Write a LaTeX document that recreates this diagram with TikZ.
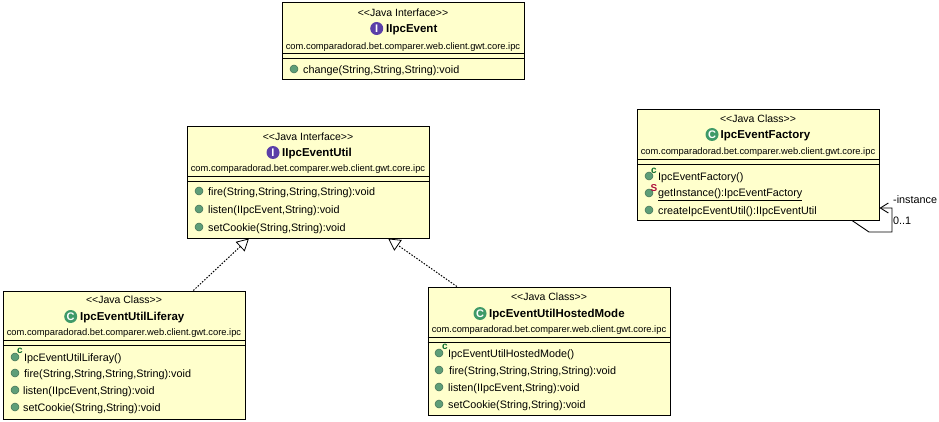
\documentclass[tikz,border=0pt]{standalone}
\usepackage{fontspec}
\setmainfont{Liberation Sans}
\definecolor{umlyellow}{HTML}{FFFFCC}
\definecolor{methodgreen}{HTML}{5E9E78}
\definecolor{classgreen}{HTML}{3F9A68}
\definecolor{ifacepurple}{HTML}{5B3FA8}
\definecolor{badgegreen}{HTML}{0A6B2A}
\definecolor{badgered}{HTML}{B0103C}
\usetikzlibrary{arrows.meta}
\tikzset{
	umlbox/.style={draw=black, fill=umlyellow, line width=1pt, inner sep=0pt},
	stereotext/.style={anchor=mid, yshift=-1.5pt, inner sep=0pt, font=\fontsize{10.5}{12}\selectfont},
	titletext/.style={anchor=mid west, yshift=-1.5pt, inner sep=0pt, font=\bfseries\fontsize{11.5}{14}\selectfont},
	packagetext/.style={anchor=mid, yshift=-1.5pt, inner sep=0pt, font=\fontsize{9.35}{11}\selectfont},
	membertext/.style={anchor=mid west, yshift=-1.5pt, inner sep=0pt, font=\fontsize{10.8}{12}\selectfont},
	labeltext/.style={anchor=mid west, yshift=-1.5pt, inner sep=0pt, font=\fontsize{10.8}{12}\selectfont},
	methodicon/.style={circle, draw=methodgreen!70!black, fill=methodgreen, line width=0.5pt, minimum size=8pt, inner sep=0pt},
	typeicon/.style={circle, fill=#1, minimum size=13pt, inner sep=0pt, text=white, font=\bfseries\fontsize{11}{11}\selectfont},
	badgetext/.style={anchor=mid, inner sep=0pt, font=\bfseries\fontsize{10}{10}\selectfont},
	realize/.style={dash pattern=on 1.5pt off 1.5pt, line width=1pt, -{Triangle[open, length=12pt, width=13pt, fill=white, line width=0.8pt]}},
	selfassoc/.style={line width=0.9pt, -{Straight Barb[length=8pt, width=10pt]}},
}
\begin{document}
\begin{tikzpicture}[x=1pt, y=-1pt]
	\useasboundingbox (0,0) rectangle (939,422);
	% boxes
	\node[umlbox, minimum width=241.5pt, minimum height=77pt] (event) at (403.25,41.5) {};
	\node[umlbox, minimum width=241.5pt, minimum height=111pt] (util) at (308.5,182.5) {};
	\node[umlbox, minimum width=241.5pt, minimum height=110pt] (factory) at (758.25,165) {};
	\node[umlbox, minimum width=242pt, minimum height=128pt] (liferay) at (124.5,355) {};
	\node[umlbox, minimum width=242pt, minimum height=128pt] (hosted) at (549,351) {};
	% compartments
	\draw (event.west |- 0,53) -- (event.east |- 0,53);
	\draw (event.west |- 0,58) -- (event.east |- 0,58);
	\draw (util.west |- 0,176) -- (util.east |- 0,176);
	\draw (util.west |- 0,181) -- (util.east |- 0,181);
	\draw (factory.west |- 0,159) -- (factory.east |- 0,159);
	\draw (factory.west |- 0,164) -- (factory.east |- 0,164);
	\draw (liferay.west |- 0,340) -- (liferay.east |- 0,340);
	\draw (liferay.west |- 0,345) -- (liferay.east |- 0,345);
	\draw (hosted.west |- 0,337) -- (hosted.east |- 0,337);
	\draw (hosted.west |- 0,342) -- (hosted.east |- 0,342);
	% IIpcEvent
	\node[stereotext] (eventstereo) at (403,12) {<{}<Java Interface>{}>};
	\node[typeicon=ifacepurple] (eventicon) at (376.7,28.5) {I};
	\node[titletext] (eventtitle) at (386,28) {IIpcEvent};
	\node[packagetext] (eventpack) at (403,45) {com.comparadorad.bet.comparer.web.client.gwt.core.ipc};
	\node[methodicon] (eventicona) at (294,69) {};
	\node[membertext] (eventchange) at (303,69) {change(String,String,String):void};
	% IIpcEventUtil
	\node[stereotext] (utilstereo) at (308,136) {<{}<Java Interface>{}>};
	\node[typeicon=ifacepurple] (utilicon) at (273,152.5) {I};
	\node[titletext] (utiltitle) at (282,152) {IIpcEventUtil};
	\node[packagetext] (utilpack) at (308,167) {com.comparadorad.bet.comparer.web.client.gwt.core.ipc};
	\foreach \ypos in {191,209,227}
		\node[methodicon] (utilicon\ypos) at (199,\ypos) {};
	\node[membertext] (utilfire) at (208,191) {fire(String,String,String,String):void};
	\node[membertext] (utillisten) at (208,209) {listen(IIpcEvent,String):void};
	\node[membertext] (utilcookie) at (208,227) {setCookie(String,String):void};
	% IpcEventFactory
	\node[stereotext] (factorystereo) at (758,118) {<{}<Java Class>{}>};
	\node[typeicon=classgreen] (factoryicon) at (712,134.5) {C};
	\node[titletext] (factorytitle) at (720.5,134) {IpcEventFactory};
	\node[packagetext] (factorypack) at (758,150) {com.comparadorad.bet.comparer.web.client.gwt.core.ipc};
	\foreach \ypos in {176,193,210}
		\node[methodicon] (factoryicon\ypos) at (649,\ypos) {};
	\node[badgetext, text=badgegreen] (factorybadgec) at (654,171) {c};
	\node[badgetext, text=badgered] (factorybadges) at (654,189) {S};
	\node[membertext] (factoryctor) at (658,176) {IpcEventFactory()};
	\node[membertext] (factoryget) at (658,192) {getInstance():IpcEventFactory};
	\node[membertext] (factorycreate) at (658,210) {createIpcEventUtil():IIpcEventUtil};
	\draw (factoryget.west |- 0,200) -- (factoryget.east |- 0,200);
	% IpcEventUtilLiferay
	\node[stereotext] (liferaystereo) at (124,299) {<{}<Java Class>{}>};
	\node[typeicon=classgreen] (liferayicon) at (70.7,316.5) {C};
	\node[titletext] (liferaytitle) at (80,316) {IpcEventUtilLiferay};
	\node[packagetext] (liferaypack) at (124,331) {com.comparadorad.bet.comparer.web.client.gwt.core.ipc};
	\foreach \ypos in {357,373,390,407}
		\node[methodicon] (liferayicon\ypos) at (15,\ypos) {};
	\node[badgetext, text=badgegreen] (liferaybadge) at (20,351) {c};
	\node[membertext] (liferayctor) at (24,357) {IpcEventUtilLiferay()};
	\node[membertext] (liferayfire) at (24,373) {fire(String,String,String,String):void};
	\node[membertext] (liferaylisten) at (23,390) {listen(IIpcEvent,String):void};
	\node[membertext] (liferaycookie) at (23,407) {setCookie(String,String):void};
	% IpcEventUtilHostedMode
	\node[stereotext] (hostedstereo) at (549,296) {<{}<Java Class>{}>};
	\node[typeicon=classgreen] (hostedicon) at (480,313.5) {C};
	\node[titletext] (hostedtitle) at (489,313) {IpcEventUtilHostedMode};
	\node[packagetext] (hostedpack) at (549,328) {com.comparadorad.bet.comparer.web.client.gwt.core.ipc};
	\foreach \ypos in {353,370,387,404}
		\node[methodicon] (hostedicon\ypos) at (439,\ypos) {};
	\node[badgetext, text=badgegreen] (hostedbadge) at (445,347) {c};
	\node[membertext] (hostedctor) at (448,353) {IpcEventUtilHostedMode()};
	\node[membertext] (hostedfire) at (449,370) {fire(String,String,String,String):void};
	\node[membertext] (hostedlisten) at (448,387) {listen(IIpcEvent,String):void};
	\node[membertext] (hostedcookie) at (448,404) {setCookie(String,String):void};
	% connectors
	\draw[realize] (liferay) -- (util);
	\draw[realize] (hosted) -- (util);
	\coordinate (loopa) at (852,220.5);
	\coordinate (loopb) at (869,232);
	\coordinate (loopc) at (892,232);
	\coordinate (loopd) at (892,208);
	\coordinate (loope) at (factory.east |- loopd);
	\draw[selfassoc] (loopa) -- (loopb) -- (loopc) -- (loopd) -- (loope);
	\node[labeltext] (loopinstance) at (893,199) {-instance};
	\node[labeltext] (loopmult) at (893,220) {0..1};
\end{tikzpicture}
\end{document}
